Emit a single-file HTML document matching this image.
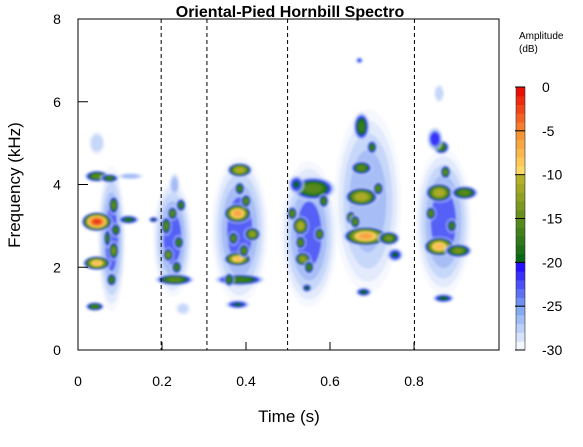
<!DOCTYPE html>
<html><head><meta charset="utf-8"><style>
body{margin:0;background:#fff;}
svg{display:block;font-family:"Liberation Sans",Arial,sans-serif;}
</style></head><body>
<svg id="c" width="583" height="447" viewBox="0 0 583 447" xmlns="http://www.w3.org/2000/svg">
<defs><filter id="bl" x="-20%" y="-20%" width="140%" height="140%"><feGaussianBlur stdDeviation="1"/></filter>
<clipPath id="pc"><rect x="78" y="19" width="421" height="331"/></clipPath></defs>
<rect width="583" height="447" fill="#fff"/>
<g id="blobs" clip-path="url(#pc)" filter="url(#bl)"></g>
<g id="axes"></g>
</svg>
<script>
// blob data: time centre (s), frequency centre (kHz), time span (s), freq span (kHz), peak level (dB)
const blobT = [0.08,0.225,0.385,0.55,0.69,0.87,
  0.04,0.045,0.045,0.045,0.075,0.085,0.085,0.08,0.09,0.045,0.12,0.18,0.125,0.07,
  0.21,0.23,0.215,0.24,0.225,0.235,0.25,0.23,0.245,
  0.38,0.385,0.38,0.38,0.385,0.415,0.37,0.4,0.36,0.395,0.385,
  0.53,0.535,0.53,0.545,0.56,0.52,0.51,0.575,0.55,0.585,
  0.685,0.675,0.675,0.68,0.675,0.67,0.74,0.755,0.65,0.7,0.66,0.715,
  0.86,0.86,0.865,0.87,0.85,0.905,0.92,0.86,0.84,0.89,0.875];
const blobF = [2.7,2.7,2.9,2.8,3.6,3.1,
  1.05,2.1,3.1,4.2,4.15,3.5,2.4,1.7,2.9,5.0,3.15,3.15,4.2,2.7,
  3.0,1.7,2.3,2.6,3.3,2.0,1.0,4.0,3.5,
  1.1,1.7,2.2,3.3,4.35,2.8,2.7,3.6,1.7,2.4,3.9,
  3.0,2.2,2.6,1.5,3.9,4.0,3.3,2.8,2.0,3.6,
  2.75,3.7,4.4,1.4,5.4,7.0,2.7,2.3,3.2,4.9,3.1,3.9,
  2.5,3.8,4.9,1.25,5.1,2.4,3.8,6.2,3.3,3.0,4.3];
const blobDT = [0.05,0.07,0.1,0.1,0.12,0.1,
  0.035,0.05,0.055,0.045,0.035,0.02,0.02,0.02,0.02,0.03,0.04,0.02,0.05,0.015,
  0.02,0.07,0.02,0.02,0.02,0.02,0.03,0.02,0.02,
  0.045,0.09,0.05,0.05,0.045,0.03,0.02,0.02,0.02,0.02,0.02,
  0.03,0.03,0.02,0.02,0.08,0.03,0.02,0.02,0.02,0.02,
  0.08,0.06,0.04,0.03,0.03,0.015,0.04,0.03,0.02,0.02,0.02,0.02,
  0.055,0.05,0.03,0.04,0.03,0.05,0.05,0.02,0.02,0.02,0.02];
const blobDF = [3.0,2.4,3.0,3.0,3.8,3.0,
  0.2,0.3,0.4,0.25,0.2,0.4,0.4,0.3,0.3,0.5,0.2,0.15,0.15,0.4,
  0.4,0.25,0.3,0.3,0.3,0.3,0.3,0.5,0.3,
  0.2,0.25,0.3,0.4,0.3,0.3,0.3,0.3,0.3,0.3,0.3,
  0.4,0.3,0.3,0.2,0.5,0.4,0.3,0.3,0.3,0.3,
  0.4,0.4,0.3,0.2,0.6,0.15,0.3,0.3,0.3,0.3,0.3,0.3,
  0.4,0.4,0.3,0.2,0.5,0.3,0.3,0.4,0.3,0.3,0.3];
const blobDB = [-23,-23,-23,-23,-24,-23,
  -16,-8,-2,-15,-17,-15,-14,-16,-16,-25,-18,-20,-24,-17,
  -15,-15,-14,-16,-15,-16,-26,-24,-17,
  -20,-16,-8,-6,-10,-12,-15,-15,-16,-15,-16,
  -10,-12,-15,-19,-15,-20,-15,-15,-16,-16,
  -6,-10,-15,-19,-17,-22,-14,-20,-15,-17,-15,-15,
  -7,-10,-16,-19,-21,-14,-15,-25,-15,-16,-15];
const xTicks = [0,0.2,0.4,0.6,0.8];
const yTicks = [0,2,4,6,8];
const cbTicks = [0,-5,-10,-15,-20,-25,-30];
const dashTimes = [0.198,0.307,0.499,0.801];

const NS='http://www.w3.org/2000/svg';
const X0=78,X1=499,Y0=350,Y1=19;
const xs=t=>X0+t*420;
const ys=f=>Y0-(f/8)*(Y0-Y1);
const cbY=d=>87+(-d/30)*(350-87);
function mk(tag,attrs,parent){const e=document.createElementNS(NS,tag);for(const k in attrs)e.setAttribute(k,attrs[k]);parent.appendChild(e);return e;}
function lerp(a,b,t){return a.map((v,i)=>Math.round(v+(b[i]-v)*t));}
function cmap(d){
  let c;
  if(d<-20){const t=(d+30)/10;c=t<0.5?lerp([255,255,255],[120,160,240],t*2):lerp([120,160,240],[30,0,255],(t-0.5)*2);}
  else if(d<-10){const t=(d+20)/10;c=lerp([0,100,20],[190,180,40],t);}
  else {const t=(d+10)/10;c=t<0.5?lerp([255,225,110],[245,140,50],t*2):lerp([245,140,50],[230,0,0],(t-0.5)*2);}
  return `rgb(${c[0]},${c[1]},${c[2]})`;
}
const g=document.getElementById('blobs');
for(let i=0;i<blobT.length;i++){
  const b=blobDB[i];
  for(let L=-29;L<=b;L+=1.5){
    const s=Math.sqrt((b-L+1.5)/(b+31.5));
    const e=mk('ellipse',{cx:xs(blobT[i]),cy:ys(blobF[i]),rx:s*blobDT[i]*300,ry:s*blobDF[i]*26,fill:cmap(L),'fill-opacity':L<-24?0.35:1},g);
    
    
  }
}
const ax=document.getElementById('axes');
dashTimes.forEach(t=>{const l=mk('line',{x1:xs(t),x2:xs(t),y1:Y1,y2:Y0,stroke:'#000','stroke-width':1,'stroke-dasharray':'4,3'},ax);
  
  });
const frame=mk('rect',{x:X0,y:Y1,width:X1-X0,height:Y0-Y1,fill:'none',stroke:'#000','stroke-width':1},ax);


xTicks.forEach(t=>{mk('line',{x1:xs(t),x2:xs(t),y1:Y0,y2:Y0-8,stroke:'#000'},ax);
  const tx=mk('text',{x:xs(t),y:386,'font-size':14,'text-anchor':'middle'},ax);tx.textContent=t;
  
  });
yTicks.forEach(f=>{mk('line',{x1:X0,x2:X0+10,y1:ys(f),y2:ys(f),stroke:'#000'},ax);
  const tx=mk('text',{x:57,y:ys(f)+5,'font-size':14,'text-anchor':'middle'},ax);tx.textContent=f;
  
  });
const title=mk('text',{x:290,y:17,'font-size':16,'font-weight':'bold','text-anchor':'middle'},ax);title.textContent='Oriental-Pied Hornbill Spectro';


const xt=mk('text',{x:289,y:422,'font-size':17,'text-anchor':'middle'},ax);xt.textContent='Time (s)';


const yt=mk('text',{x:0,y:0,'font-size':17,'text-anchor':'middle',transform:'translate(20,185) rotate(-90)'},ax);yt.textContent='Frequency (kHz)';


for(let d=-30;d<0;d+=1){const r=mk('rect',{x:516,y:cbY(d+1),width:9,height:cbY(d)-cbY(d+1)+0.5,fill:cmap(d+0.5)},ax);
  
  }
mk('rect',{x:516,y:87,width:9,height:263,fill:'none',stroke:'#333','stroke-width':0.6},ax);
cbTicks.forEach(d=>{mk('line',{x1:515,x2:525,y1:cbY(d),y2:cbY(d),stroke:'#000'},ax);
  const tx=mk('text',{x:542,y:cbY(d)+5,'font-size':14},ax);tx.textContent=d;
  
  });
const a1=mk('text',{x:519,y:39,'font-size':10},ax);a1.textContent='Amplitude';


const a2=mk('text',{x:519,y:52,'font-size':10},ax);a2.textContent='(dB)';


</script>
</body></html>
